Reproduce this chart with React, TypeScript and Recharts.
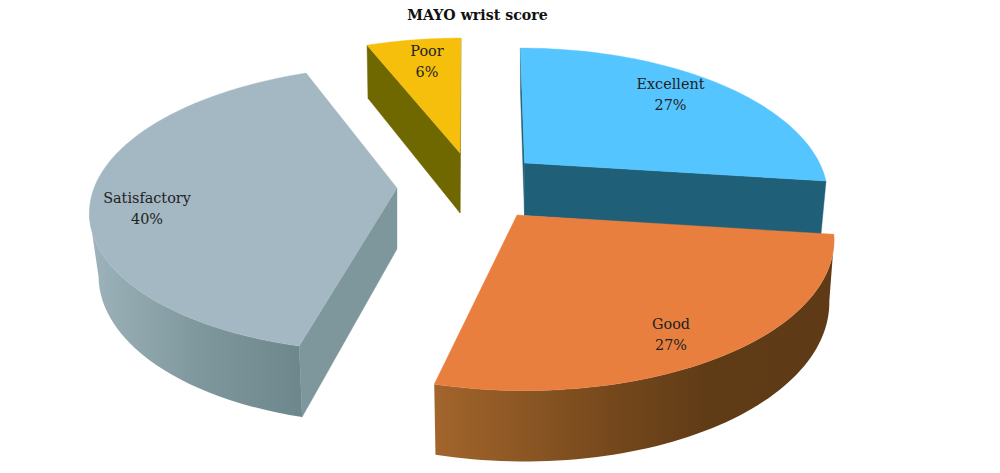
import React from "react";
import { PieChart, Pie } from "recharts";

const categories = ["Excellent", "Good", "Satisfactory", "Poor"];
const percents = [27, 27, 40, 6];
const chartTitle = "MAYO wrist score";

const rows = categories.map((name, i) => ({ name, value: percents[i] }));

type Look = {
  ox: number; oy: number; rx: number; ry: number; k: number; s: number; d: number; sx: number;
  top: string; radial: string; arc: [number, string][]; gx: [number, number]; lx: number; ly: number;
};

const looks: Record<string, Look> = {
  Excellent: { ox: 24.5, oy: -37, rx: 2.95, ry: 1.4, k: 0.218, s: -0.05, d: 52.5, sx: 0.983, top: "#55c5ff", radial: "#1f5f78", arc: [[0, "#1f5f78"], [1, "#1f5f78"]], gx: [520, 830], lx: 146, ly: -74 },
  Good: { ox: 17, oy: 15, rx: 3.13, ry: 1.51, k: 0.14, s: -0.065, d: 61, sx: 0.985, top: "#e87f3f", radial: "#5e3a16", arc: [[0, "#a3652c"], [0.45, "#75481c"], [0.7, "#5f3b16"], [1, "#5e3a16"]], gx: [433, 830], lx: 154, ly: 114 },
  Satisfactory: { ox: -103, oy: -12, rx: 3.03, ry: 1.403, k: 0.145, s: 0.09, d: 61, sx: 0.97, top: "#a3b8c2", radial: "#7e979c", arc: [[0, "#9db2ba"], [0.5, "#7f989e"], [1, "#6e878c"]], gx: [92, 300], lx: -250, ly: 15 },
  Poor: { ox: -40, oy: -47, rx: 2.88, ry: 1.31, k: 0.14, s: 0.01, d: 60, sx: 0.99, top: "#f5bf0b", radial: "#6f6700", arc: [[0, "#6f6700"], [1, "#6f6700"]], gx: [360, 470], lx: -33, ly: -97 },
};

const RAD = Math.PI / 180;

function SliceShape(props: any) {
  const { cx, cy, outerRadius, startAngle, endAngle, name } = props;
  const key = name ?? props.payload?.name;
  const L = looks[key];
  const ax = cx + L.ox;
  const ay = cy + L.oy;
  const R = outerRadius;
  const at = (u: number, v: number) => {
    const w = 1 + L.k * v;
    const dx = (L.rx * R * u + L.s * R * v) / w;
    const dy = (-L.ry * R * v) / w;
    return {
      x: ax + dx, y: ay + dy,
      bx: ax + dx * L.sx, by: ay + dy + L.d / w,
    };
  };
  const apex = at(0, 0);
  const N = 64;
  const rim = [];
  for (let i = 0; i <= N; i++) {
    const a = (startAngle + ((endAngle - startAngle) * i) / N) * RAD;
    rim.push(at(Math.cos(a), Math.sin(a)));
  }
  const poly = (pts: { x: number; y: number }[]) =>
    pts.map((p, i) => `${i ? "L" : "M"}${p.x.toFixed(2)},${p.y.toFixed(2)}`).join("") + "Z";
  const quad = (a: any, b: any) =>
    poly([{ x: a.x, y: a.y }, { x: b.x, y: b.y }, { x: b.bx, y: b.by }, { x: a.bx, y: a.by }]);

  const walls: React.ReactNode[] = [];
  const first = rim[0];
  const last = rim[N];
  if (first.x < apex.x) walls.push(<path key="r0" d={quad(apex, first)} fill={L.radial} stroke={L.radial} strokeWidth={0.4} />);
  if (apex.x < last.x) walls.push(<path key="r1" d={quad(last, apex)} fill={L.radial} stroke={L.radial} strokeWidth={0.4} />);
  const gid = `wall-${key}`;
  let run: any[] = [];
  const flush = (n: number) => {
    if (run.length > 1) {
      const pts = [
        ...run.map((p) => ({ x: p.x, y: p.y })),
        ...[...run].reverse().map((p) => ({ x: p.bx, y: p.by })),
      ];
      walls.push(<path key={`a${n}`} d={poly(pts)} fill={`url(#${gid})`} />);
    }
    run = [];
  };
  for (let i = 0; i < N; i++) {
    if (rim[i + 1].x < rim[i].x) {
      if (!run.length) run.push(rim[i]);
      run.push(rim[i + 1]);
    } else flush(i);
  }
  flush(N);

  return (
    <g>
      <defs>
        <linearGradient id={gid} gradientUnits="userSpaceOnUse" x1={L.gx[0]} x2={L.gx[1]} y1={0} y2={0}>
          {L.arc.map(([o, c]) => <stop key={o} offset={o} stopColor={c} />)}
        </linearGradient>
      </defs>
      {walls}
      <path d={poly([apex, ...rim])} fill={L.top} stroke={L.top} strokeWidth={0.4} />
    </g>
  );
}

function SliceLabel(props: any) {
  const { cx, cy, name, percent } = props;
  const L = looks[name];
  const x = cx + L.ox + L.lx;
  const y = cy + L.oy + L.ly;
  return (
    <text x={x} y={y} textAnchor="middle" fontFamily="'DejaVu Serif'" fontSize={14.4} fill="#222222">
      <tspan x={x} dy={0}>{name}</tspan>
      <tspan x={x} dy={20.5}>{Math.round(percent * 100)}%</tspan>
    </text>
  );
}

export default function App() {
  return (
    <div style={{ position: "fixed", left: 0, top: 0, width: 1000, height: 473, background: "#fff" }}>
      <PieChart width={1000} height={473} margin={{ top: 0, right: 0, bottom: 0, left: 0 }}>
        <text x={477.5} y={20} textAnchor="middle" fontFamily="'DejaVu Serif'" fontWeight={700} fontSize={14.2} fill="#111111">{chartTitle}</text>
        <Pie
          data={rows}
          dataKey="value"
          nameKey="name"
          cx={500}
          cy={200}
          outerRadius={100}
          startAngle={90}
          endAngle={-270}
          paddingAngle={0}
          stroke="none"
          isAnimationActive={false}
          labelLine={false}
          label={SliceLabel}
          shape={SliceShape}
        />
      </PieChart>
    </div>
  );
}
